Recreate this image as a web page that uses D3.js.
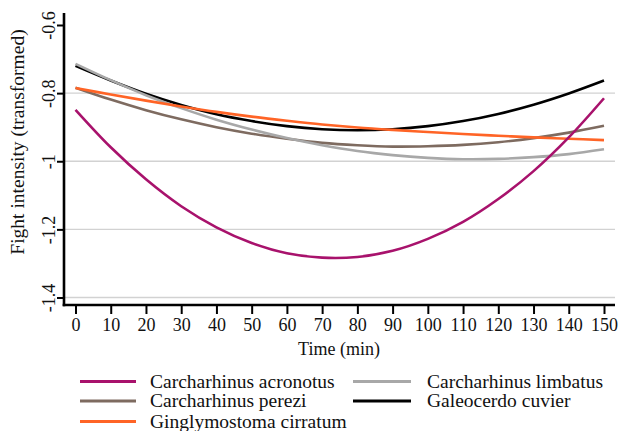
<!DOCTYPE html>
<html>
<head>
<meta charset="utf-8">
<script src="https://cdn.jsdelivr.net/npm/d3@7"></script>
<style>
  html, body { margin: 0; padding: 0; background: #fff; }
  svg { display: block; }
  text { font-family: "Liberation Serif", "Times New Roman", serif; fill: #111; }
</style>
</head>
<body>
<svg id="chart" width="620" height="431"></svg>
<script>
// ---- data ----
const times = [0, 10, 20, 30, 40, 50, 60, 70, 80, 90, 100, 110, 120, 130, 140, 150];
const acronotus = [-0.849, -0.959, -1.053, -1.132, -1.194, -1.240, -1.270, -1.283, -1.281, -1.263, -1.228, -1.178, -1.111, -1.029, -0.930, -0.815];
const perezi    = [-0.784, -0.819, -0.850, -0.877, -0.900, -0.919, -0.934, -0.946, -0.953, -0.957, -0.956, -0.952, -0.944, -0.932, -0.916, -0.896];
const cirratum  = [-0.785, -0.804, -0.822, -0.839, -0.855, -0.869, -0.881, -0.892, -0.901, -0.908, -0.914, -0.920, -0.925, -0.930, -0.934, -0.938];
const limbatus  = [-0.714, -0.762, -0.806, -0.844, -0.878, -0.907, -0.932, -0.953, -0.970, -0.982, -0.990, -0.994, -0.993, -0.988, -0.979, -0.965];
const cuvier    = [-0.720, -0.763, -0.802, -0.835, -0.862, -0.882, -0.897, -0.906, -0.909, -0.906, -0.897, -0.882, -0.861, -0.834, -0.801, -0.763];
const xTicks = [0, 10, 20, 30, 40, 50, 60, 70, 80, 90, 100, 110, 120, 130, 140, 150];
const yTicks = [-0.6, -0.8, -1, -1.2, -1.4];
const gridValues = [-0.8, -1, -1.2, -1.4];
const xTitle = "Time (min)";
const yTitle = "Fight intensity (transformed)";

const series = [
  { name: "Carcharhinus perezi",    values: perezi,    color: "#7e6b60" },
  { name: "Galeocerdo cuvier",      values: cuvier,    color: "#000000" },
  { name: "Carcharhinus limbatus",  values: limbatus,  color: "#a8a8a8" },
  { name: "Ginglymostoma cirratum", values: cirratum,  color: "#ff6426" },
  { name: "Carcharhinus acronotus", values: acronotus, color: "#a8126c" }
];
const legendOrder = [
  ["Carcharhinus acronotus", 0, 0],
  ["Carcharhinus perezi", 0, 1],
  ["Ginglymostoma cirratum", 0, 2],
  ["Carcharhinus limbatus", 1, 0],
  ["Galeocerdo cuvier", 1, 1]
];

// ---- layout ----
const svg = d3.select("#chart");
const axisX = 64, axisY = 305, plotRight = 615, plotTop = 13;
const x = d3.scaleLinear().domain([0, 150]).range([75.5, 604]);
const y = d3.scaleLinear().domain([-1.4, -0.6]).range([297.5, 25]);

// gridlines
svg.append("g").selectAll("line").data(gridValues).join("line")
  .attr("x1", axisX).attr("x2", plotRight)
  .attr("y1", d => y(d)).attr("y2", d => y(d))
  .attr("stroke", "#d2d2d2").attr("stroke-width", 1.3);

// lines
const line = d3.line().x((d, i) => x(times[i])).y(d => y(d)).curve(d3.curveCatmullRom);
svg.append("g").selectAll("path").data(series).join("path")
  .attr("d", d => line(d.values))
  .attr("fill", "none")
  .attr("stroke", d => d.color)
  .attr("stroke-width", 2.6)
  .attr("stroke-linecap", "butt");

// x axis
const gx = svg.append("g").attr("transform", `translate(0,${axisY})`)
  .call(d3.axisBottom(x).tickValues(xTicks).tickSize(9).tickPadding(4).tickFormat(d => String(d)));
gx.select(".domain").remove();
gx.selectAll(".tick line").attr("stroke", "#000").attr("stroke-width", 2);
gx.selectAll(".tick text").attr("font-size", 18).attr("fill", "#111")
  .attr("font-family", "Liberation Serif, serif");

// y axis
const gy = svg.append("g").attr("transform", `translate(${axisX},0)`)
  .call(d3.axisLeft(y).tickValues(yTicks).tickSize(7).tickFormat(d => String(d)));
gy.select(".domain").remove();
gy.selectAll(".tick line").attr("stroke", "#000").attr("stroke-width", 2);
gy.selectAll(".tick text")
  .attr("font-size", 18).attr("fill", "#111").attr("font-family", "Liberation Serif, serif")
  .attr("text-anchor", "middle").attr("dy", null).attr("x", null)
  .attr("transform", "translate(-9,0) rotate(-90)");

// axis lines
svg.append("line").attr("x1", axisX).attr("x2", axisX).attr("y1", plotTop).attr("y2", axisY + 1.2)
  .attr("stroke", "#000").attr("stroke-width", 2.6);
svg.append("line").attr("x1", axisX - 1.3).attr("x2", plotRight).attr("y1", axisY).attr("y2", axisY)
  .attr("stroke", "#000").attr("stroke-width", 2.6);

// titles
svg.append("text").attr("x", 339).attr("y", 355).attr("text-anchor", "middle")
  .attr("font-size", 18).text(xTitle);
svg.append("text").attr("transform", "translate(24,142) rotate(-90)").attr("text-anchor", "middle")
  .attr("font-size", 19.5).text(yTitle);

// legend
const colX = [[80, 136, 150], [353, 411, 427]];
const rowY = [381.5, 401, 421.5];
const byName = Object.fromEntries(series.map(s => [s.name, s]));
const lg = svg.append("g").selectAll("g").data(legendOrder).join("g");
lg.append("line")
  .attr("x1", d => colX[d[1]][0]).attr("x2", d => colX[d[1]][1])
  .attr("y1", d => rowY[d[2]]).attr("y2", d => rowY[d[2]])
  .attr("stroke", d => byName[d[0]].color).attr("stroke-width", 2.8);
lg.append("text")
  .attr("x", d => colX[d[1]][2]).attr("y", d => rowY[d[2]] + 6)
  .attr("font-size", 19.5).text(d => d[0]);
</script>
</body>
</html>
